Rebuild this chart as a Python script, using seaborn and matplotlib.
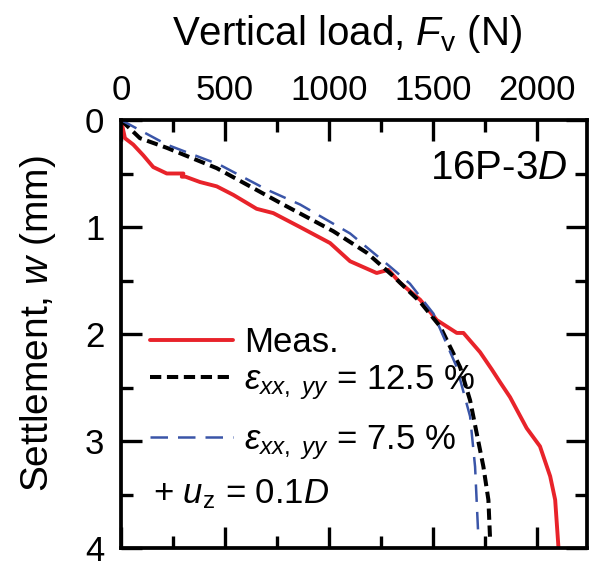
import numpy as np
import pandas as pd
import matplotlib
matplotlib.use("Agg")
import matplotlib.pyplot as plt
import seaborn as sns

# ---- data ----
meas_F = [0, 19, 59, 107, 155, 220, 284, 300, 292, 310, 380, 460, 540, 652, 732, 860,
          1005, 1101, 1229, 1285, 1341, 1438, 1518, 1614, 1646, 1726, 1782, 1822,
          1870, 1950, 2014, 2063, 2087, 2103]
meas_w = [0.0, 0.17, 0.23, 0.33, 0.44, 0.50, 0.50, 0.50, 0.53, 0.53, 0.58, 0.62, 0.70, 0.83,
          0.87, 1.0, 1.15, 1.32, 1.43, 1.40, 1.52, 1.68, 1.87, 1.99, 1.99, 2.17, 2.33,
          2.45, 2.59, 2.88, 3.05, 3.33, 3.55, 4.0]

e125_F = [0, 91, 220, 460, 620, 780, 1021, 1181, 1309, 1373, 1438, 1534, 1630, 1678,
          1710, 1742, 1766, 1774]
e125_w = [0.0, 0.17, 0.26, 0.45, 0.62, 0.79, 1.04, 1.24, 1.46, 1.58, 1.70, 1.93, 2.31,
          2.62, 2.93, 3.24, 3.55, 3.91]

e75_F = [0, 220, 476, 700, 861, 1021, 1101, 1293, 1389, 1502, 1614, 1678, 1702, 1718]
e75_w = [0.0, 0.23, 0.42, 0.65, 0.79, 0.97, 1.06, 1.37, 1.53, 1.81, 2.31, 2.77, 3.24, 3.91]

x_ticks = [0, 500, 1000, 1500, 2000]
y_ticks = [0, 1, 2, 3, 4]
labels = ['Meas.', r'$\varepsilon_{xx,\ yy}$ = 12.5 %', r'$\varepsilon_{xx,\ yy}$ = 7.5 %']

sns.set_theme(style="ticks")
plt.rcParams['font.family'] = ['Liberation Sans', 'DejaVu Sans']
plt.rcParams['mathtext.fontset'] = 'custom'
plt.rcParams['mathtext.rm'] = 'Liberation Sans'
plt.rcParams['mathtext.it'] = 'Liberation Sans:italic'
plt.rcParams['mathtext.sf'] = 'Liberation Sans'
for k in ['text.color', 'axes.labelcolor', 'xtick.color', 'ytick.color', 'axes.edgecolor']:
    plt.rcParams[k] = 'black'

fig = plt.figure(figsize=(5.97, 5.63), dpi=100)
ax = fig.add_axes([121/597, 1-548/563, 466/597, 428/563])

red = '#e8232a'
blue = '#3a55a8'

df_m = pd.DataFrame({'F': meas_F, 'w': meas_w})
df_b = pd.DataFrame({'F': e125_F, 'w': e125_w})
df_l = pd.DataFrame({'F': e75_F, 'w': e75_w})

sns.lineplot(data=df_m, x='F', y='w', sort=False, estimator=None, ax=ax,
             color=red, lw=2.8, label=labels[0])
sns.lineplot(data=df_b, x='F', y='w', sort=False, estimator=None, ax=ax,
             color='black', lw=2.9, label=labels[1])
sns.lineplot(data=df_l, x='F', y='w', sort=False, estimator=None, ax=ax,
             color=blue, lw=1.8, label=labels[2])
ax.lines[1].set_dashes([2.8, 1.4])
ax.lines[2].set_dashes([7, 4])

ax.set_xlim(0, 2240)
ax.set_ylim(4, 0)
ax.set_xticks(x_ticks)
ax.set_yticks(y_ticks)
ax.set_xticks([250, 750, 1250, 1750], minor=True)
ax.set_yticks([0.5, 1.5, 2.5, 3.5], minor=True)
ax.xaxis.set_label_position('top')
ax.tick_params(which='both', direction='in', top=True, bottom=True, left=True, right=True,
               labeltop=True, labelbottom=False, width=2.4)
ax.tick_params(which='major', length=15, labelsize=25)
ax.tick_params(which='minor', length=8.5)
ax.xaxis.set_tick_params(pad=9)
ax.yaxis.set_tick_params(pad=12)
for s in ax.spines.values():
    s.set_linewidth(2.7)

ax.set_xlabel(r'Vertical load, $\mathit{F}_{\mathrm{v}}$ (N)', fontsize=29)
ax.set_ylabel(r'Settlement, $\mathit{w}$ (mm)', fontsize=28)
ax.xaxis.set_label_coords(0.486, 1.175)
ax.yaxis.set_label_coords(-0.135, 0.523)

h, l = ax.get_legend_handles_labels()
common = dict(frameon=False, fontsize=25, handlelength=2.4, handletextpad=0.3,
              borderaxespad=0, borderpad=0, loc='center left')
leg1 = ax.legend(h[:1], l[:1], bbox_to_anchor=(0.062, 0.479), **common)
ax.add_artist(leg1)
leg2 = ax.legend(h[1:], l[1:], bbox_to_anchor=(0.062, 0.316), labelspacing=0.6, **common)

ax.text(0.069, 0.105, r'+ $\mathit{u}_{\mathrm{z}}$ = 0.1$\mathit{D}$', transform=ax.transAxes,
        fontsize=25, va='baseline', ha='left')
ax.text(0.958, 0.862, r'16P-3$\mathit{D}$', transform=ax.transAxes, fontsize=29,
        va='baseline', ha='right')

fig.text(0.02, 1.035, '(a)', fontsize=28, va='center', ha='left')

fig.savefig('out.png', dpi=100)
